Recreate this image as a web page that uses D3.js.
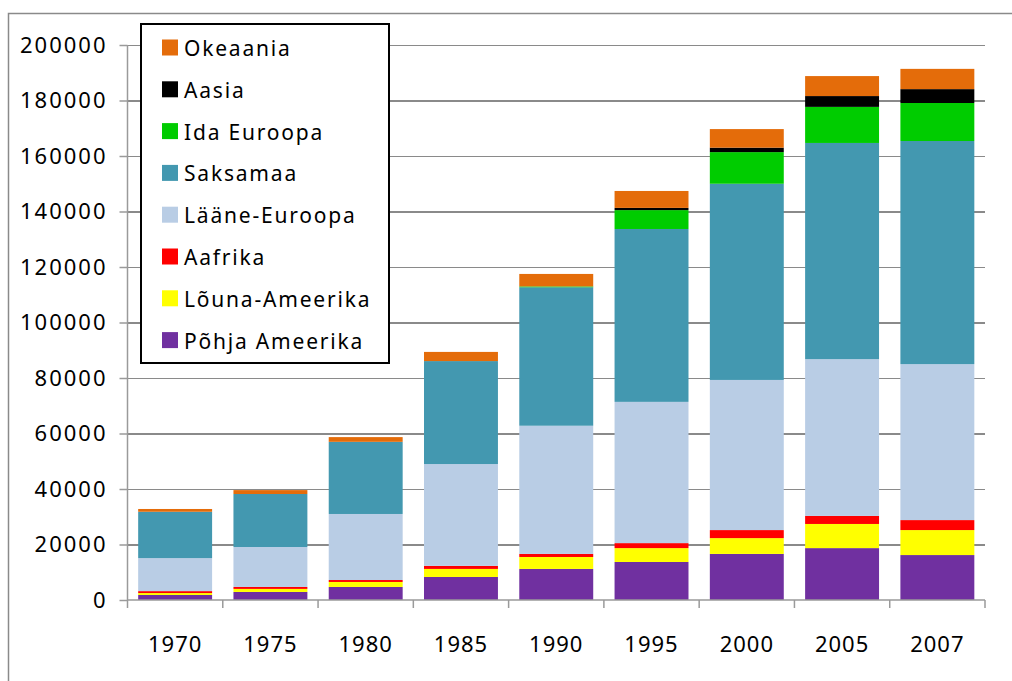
<!DOCTYPE html>
<meta charset="utf-8">
<style>
  body { margin: 0; background: #fff; }
  .grid line { stroke: #8a8a8a; stroke-width: 1.5px; shape-rendering: crispEdges; }
  .grid path { stroke-width: 0; }
  .axis text { font-family: "Noto Sans", sans-serif; font-size: 22px; letter-spacing: 1px; fill: #000; }
  .axis.yaxis text { letter-spacing: 2px; }
  .axis path, .axis line { stroke: #9a9a9a; stroke-width: 1.5px; }
  .legend text { font-family: "Noto Sans", sans-serif; font-size: 21px; letter-spacing: 1.8px; fill: #000; }
</style>
<body>
<script src="https://d3js.org/d3.v7.min.js"></script>
<script>
// years on the x axis
var years = ["1970", "1975", "1980", "1985", "1990", "1995", "2000", "2005", "2007"];
// series, bottom to top
var seriesNames = ["Põhja Ameerika", "Lõuna-Ameerika", "Aafrika", "Lääne-Euroopa", "Saksamaa", "Ida Euroopa", "Aasia", "Okeaania"];
var seriesColors = ["#7030A0", "#FFFF00", "#FF0000", "#B9CDE5", "#4398B0", "#00CC00", "#000000", "#E46C0A"];
// values per series, one per year
var pohjaAmeerika = [1800, 2900, 4700, 8300, 11200, 13700, 16600, 18700, 16200];
var lounaAmeerika = [700, 1100, 1800, 2900, 4300, 5000, 5700, 8700, 9000];
var aafrika       = [700, 700, 700, 1100, 1100, 1800, 2900, 2900, 3600];
var laaneEuroopa  = [11900, 14400, 23800, 36700, 46200, 50900, 54100, 56500, 56200];
var saksamaa      = [16700, 19100, 26000, 37100, 49900, 62300, 70700, 77900, 80400];
var idaEuroopa    = [0, 0, 0, 0, 300, 6800, 11400, 13000, 13700];
var aasia         = [0, 0, 0, 0, 0, 800, 1600, 3900, 5000];
var okeaania      = [1000, 1400, 1700, 3300, 4500, 6100, 6700, 7200, 7300];
var yTicks = [0, 20000, 40000, 60000, 80000, 100000, 120000, 140000, 160000, 180000, 200000];

var seriesValues = [pohjaAmeerika, lounaAmeerika, aafrika, laaneEuroopa, saksamaa, idaEuroopa, aasia, okeaania];

// table for d3.stack
var table = years.map(function(yr, i) {
  var row = {year: yr};
  seriesNames.forEach(function(s, j) { row[s] = seriesValues[j][i]; });
  return row;
});

var W = 1012, H = 681;
var plotL = 127.5, plotR = 985, plotT = 45, plotB = 600;

var svg = d3.select("body").append("svg")
    .attr("width", W)
    .attr("height", H);

svg.append("rect").attr("width", W).attr("height", H).attr("fill", "#fff");

// outer chart frame (top and left edges visible)
svg.append("path")
    .attr("d", "M8.5," + H + "V13.5H" + W)
    .attr("fill", "none")
    .attr("stroke", "#8a8a8a")
    .attr("stroke-width", 1.5);

var x = d3.scaleBand().domain(years).range([plotL, plotR]).paddingInner(0.224).paddingOuter(0.112);
var y = d3.scaleLinear().domain([0, 200000]).range([plotB, plotT]);

// gridlines
svg.append("g")
    .attr("class", "grid")
    .attr("transform", "translate(" + plotL + ",0)")
    .call(d3.axisRight(y).tickValues(yTicks.slice(1)).tickSize(plotR - plotL).tickFormat(""));

var layers = d3.stack().keys(seriesNames)(table);

svg.append("g").selectAll("g")
    .data(layers)
  .enter().append("g")
    .attr("fill", function(d, i) { return seriesColors[i]; })
  .selectAll("rect")
    .data(function(d) { return d; })
  .enter().append("rect")
    .attr("x", function(d) { return x(d.data.year); })
    .attr("width", x.bandwidth())
    .attr("y", function(d) { return y(d[1]); })
    .attr("height", function(d) { return y(d[0]) - y(d[1]); });

// y axis
var yAxis = svg.append("g")
    .attr("class", "axis yaxis")
    .attr("transform", "translate(" + plotL + ",0)")
    .call(d3.axisLeft(y).tickValues(yTicks).tickSize(8).tickPadding(12).tickFormat(d3.format("d")));
yAxis.select(".domain").attr("d", "M0," + plotT + "V" + plotB);

// x axis with ticks at band edges
var xAxis = svg.append("g")
    .attr("class", "axis")
    .attr("transform", "translate(0," + plotB + ")")
    .call(d3.axisBottom(x).tickSize(0).tickPadding(36));
xAxis.select(".domain").attr("d", "M" + plotL + ",0H" + plotR);
var step = x.step();
xAxis.selectAll("line.edge")
    .data(d3.range(years.length + 1))
  .enter().append("line")
    .attr("class", "edge")
    .attr("x1", function(i) { return plotL + i * step; })
    .attr("x2", function(i) { return plotL + i * step; })
    .attr("y1", 0).attr("y2", 8);

// legend
var legend = svg.append("g").attr("class", "legend");
legend.append("rect")
    .attr("x", 141).attr("y", 24)
    .attr("width", 248).attr("height", 339)
    .attr("fill", "#fff")
    .attr("stroke", "#000")
    .attr("stroke-width", 2);

var order = d3.range(seriesNames.length).reverse();
var item = legend.selectAll("g.item")
    .data(order)
  .enter().append("g")
    .attr("class", "item")
    .attr("transform", function(d, i) { return "translate(162," + (39.5 + i * 41.8) + ")"; });
item.append("rect")
    .attr("width", 16).attr("height", 16)
    .attr("fill", function(d) { return seriesColors[d]; });
item.append("text")
    .attr("x", 22).attr("y", 16.5)
    .text(function(d) { return seriesNames[d]; });
</script>
</body>
